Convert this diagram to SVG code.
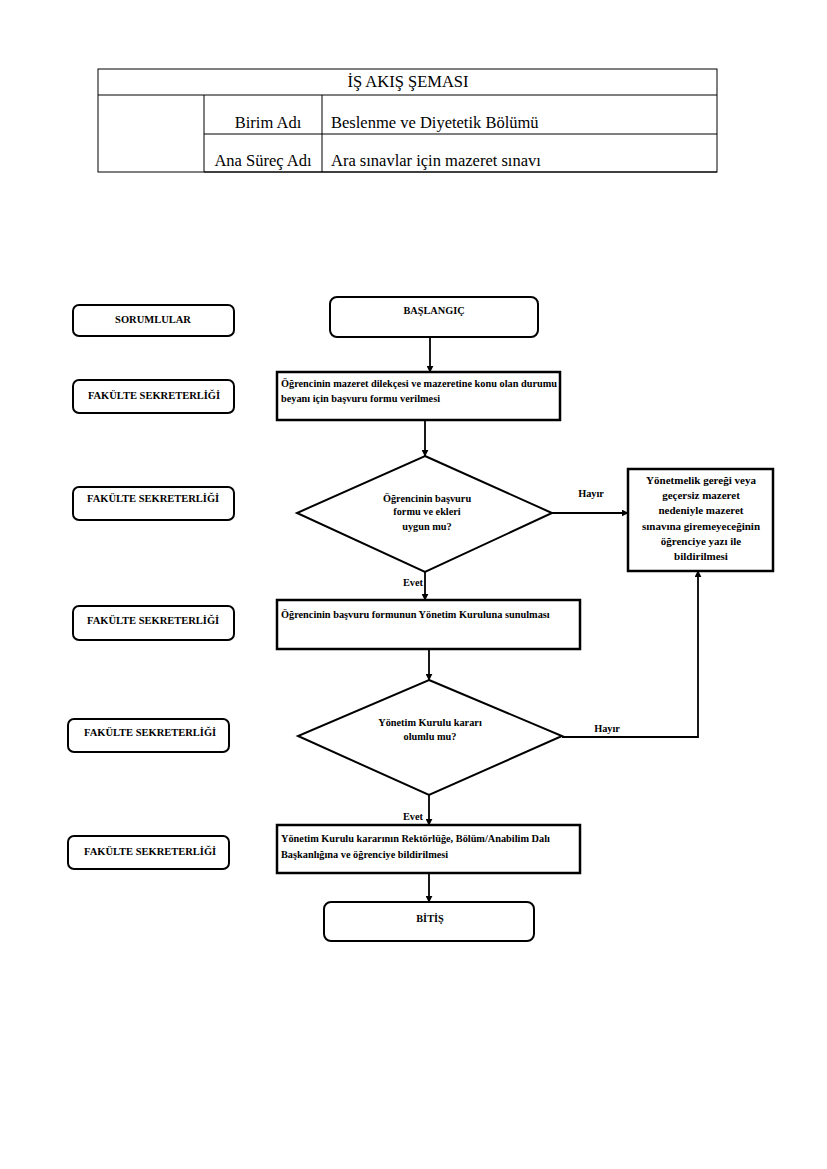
<svg xmlns="http://www.w3.org/2000/svg" width="827" height="1169" viewBox="0 0 827 1169">
<defs>
<marker id="ah" viewBox="0 0 10 10" refX="9" refY="5" markerWidth="7" markerHeight="7" markerUnits="userSpaceOnUse" orient="auto"><path d="M0,0 L10,5 L0,10 z" fill="#000"/></marker>
</defs>
<style>
.hd{font-family:"Liberation Serif","Times New Roman",serif;font-size:16.5px;fill:#000}
.t{font-family:"Liberation Serif","Times New Roman",serif;font-size:10.3px;font-weight:bold;fill:#000}
.l{font-family:"Liberation Serif","Times New Roman",serif;font-size:10.5px;font-weight:bold;fill:#000}
.rt{font-family:"Liberation Serif","Times New Roman",serif;font-size:11px;font-weight:bold;fill:#000}
.box{fill:#fff;stroke:#000;stroke-width:2.5}
.rbox{fill:#fff;stroke:#000;stroke-width:2}
.ln{stroke:#000;stroke-width:1;fill:none}
.conn{stroke:#000;stroke-width:1.8;fill:none;marker-end:url(#ah)}
</style>
<rect width="827" height="1169" fill="#fff"/>
<g id="header">
<rect x="98" y="69" width="619" height="103" class="ln"/>
<line x1="98" y1="95" x2="717" y2="95" class="ln"/>
<line x1="204" y1="95" x2="204" y2="172" class="ln" stroke-width="1.5"/>
<line x1="322" y1="95" x2="322" y2="172" class="ln" stroke-width="1.5"/>
<line x1="204" y1="134" x2="717" y2="134" class="ln" stroke-width="1.5"/>
<line x1="204" y1="172" x2="717" y2="172" class="ln" stroke-width="1.5"/>
<text x="408" y="87" class="hd" text-anchor="middle">İŞ AKIŞ ŞEMASI</text>
<text x="268" y="128" class="hd" text-anchor="middle">Birim Adı</text>
<text x="331" y="128" class="hd">Beslenme ve Diyetetik Bölümü</text>
<text x="263" y="166" class="hd" text-anchor="middle">Ana Süreç Adı</text>
<text x="331" y="166" class="hd">Ara sınavlar için mazeret sınavı</text>
</g>
<g id="r0"><rect x="73" y="305" width="161" height="31" rx="6" class="rbox"/><text x="153" y="323" class="l" text-anchor="middle">SORUMLULAR</text></g>
<g id="r1"><rect x="73" y="380" width="161" height="33" rx="6" class="rbox"/><text x="154" y="399" class="l" text-anchor="middle">FAKÜLTE SEKRETERLİĞİ</text></g>
<g id="r2"><rect x="73" y="487" width="161" height="33" rx="6" class="rbox"/><text x="87" y="502" class="l">FAKÜLTE SEKRETERLİĞİ</text></g>
<g id="r3"><rect x="73" y="606" width="161" height="34" rx="6" class="rbox"/><text x="87" y="624" class="l">FAKÜLTE SEKRETERLİĞİ</text></g>
<g id="r4"><rect x="68" y="719" width="161" height="33" rx="6" class="rbox"/><text x="84" y="736" class="l">FAKÜLTE SEKRETERLİĞİ</text></g>
<g id="r5"><rect x="68" y="836" width="161" height="33" rx="6" class="rbox"/><text x="84" y="855" class="l">FAKÜLTE SEKRETERLİĞİ</text></g>
<g id="connectors">
<line x1="430" y1="337" x2="430" y2="372" class="conn"/>
<line x1="425" y1="420" x2="425" y2="456" class="conn"/>
<line x1="552" y1="513" x2="628" y2="513" class="conn"/>
<line x1="425" y1="572" x2="425" y2="600" class="conn"/>
<line x1="429" y1="649" x2="429" y2="680" class="conn" stroke-width="2.5"/>
<polyline points="562,737 698,737 698,571" class="conn"/>
<line x1="429" y1="795" x2="429" y2="825" class="conn"/>
<line x1="429" y1="873" x2="429" y2="902" class="conn"/>
<text x="591" y="497" class="t" text-anchor="middle">Hayır</text>
<text x="413" y="586" class="t" text-anchor="middle">Evet</text>
<text x="607" y="732" class="t" text-anchor="middle">Hayır</text>
<text x="413" y="820" class="t" text-anchor="middle">Evet</text>
</g>
<g id="start"><rect x="330" y="297" width="208" height="40" rx="7" class="rbox"/><text x="434" y="314" class="t" text-anchor="middle">BAŞLANGIÇ</text></g>
<g id="p1"><rect x="277" y="372" width="283" height="48" class="box"/>
<text x="281" y="387" class="t">Öğrencinin mazeret dilekçesi ve mazeretine konu olan durumu</text>
<text x="281" y="402" class="t">beyanı için başvuru formu verilmesi</text></g>
<g id="d1"><polygon points="425,456 552,513 425,572 297,513" class="rbox"/>
<text x="427" y="502" class="t" text-anchor="middle">Öğrencinin başvuru</text>
<text x="427" y="515" class="t" text-anchor="middle">formu ve ekleri</text>
<text x="427" y="530" class="t" text-anchor="middle">uygun  mu?</text></g>
<g id="no1"><rect x="628" y="469" width="145" height="102" class="box"/>
<text x="701" y="484" class="rt" text-anchor="middle">Yönetmelik gereği veya</text>
<text x="701" y="499" class="rt" text-anchor="middle">geçersiz mazeret</text>
<text x="701" y="514" class="rt" text-anchor="middle">nedeniyle  mazeret</text>
<text x="701" y="530" class="rt" text-anchor="middle">sınavına giremeyeceğinin</text>
<text x="701" y="545" class="rt" text-anchor="middle">öğrenciye  yazı ile</text>
<text x="701" y="560" class="rt" text-anchor="middle">bildirilmesi</text></g>
<g id="p2"><rect x="277" y="600" width="303" height="49" class="box"/>
<text x="281" y="618" class="t">Öğrencinin başvuru formunun Yönetim Kuruluna sunulması</text></g>
<g id="d2"><polygon points="429,680 562,736 429,795 298,736" class="rbox"/>
<text x="430" y="726" class="t" text-anchor="middle">Yönetim Kurulu kararı</text>
<text x="430" y="740" class="t" text-anchor="middle">olumlu mu?</text></g>
<g id="p3"><rect x="277" y="825" width="303" height="48" class="box"/>
<text x="281" y="842" class="t">Yönetim Kurulu kararının Rektörlüğe, Bölüm/Anabilim Dalı</text>
<text x="281" y="858" class="t">Başkanlığına ve öğrenciye bildirilmesi</text></g>
<g id="end"><rect x="324" y="902" width="210" height="39" rx="7" class="rbox"/><text x="430" y="922" class="t" text-anchor="middle">BİTİŞ</text></g>
</svg>
